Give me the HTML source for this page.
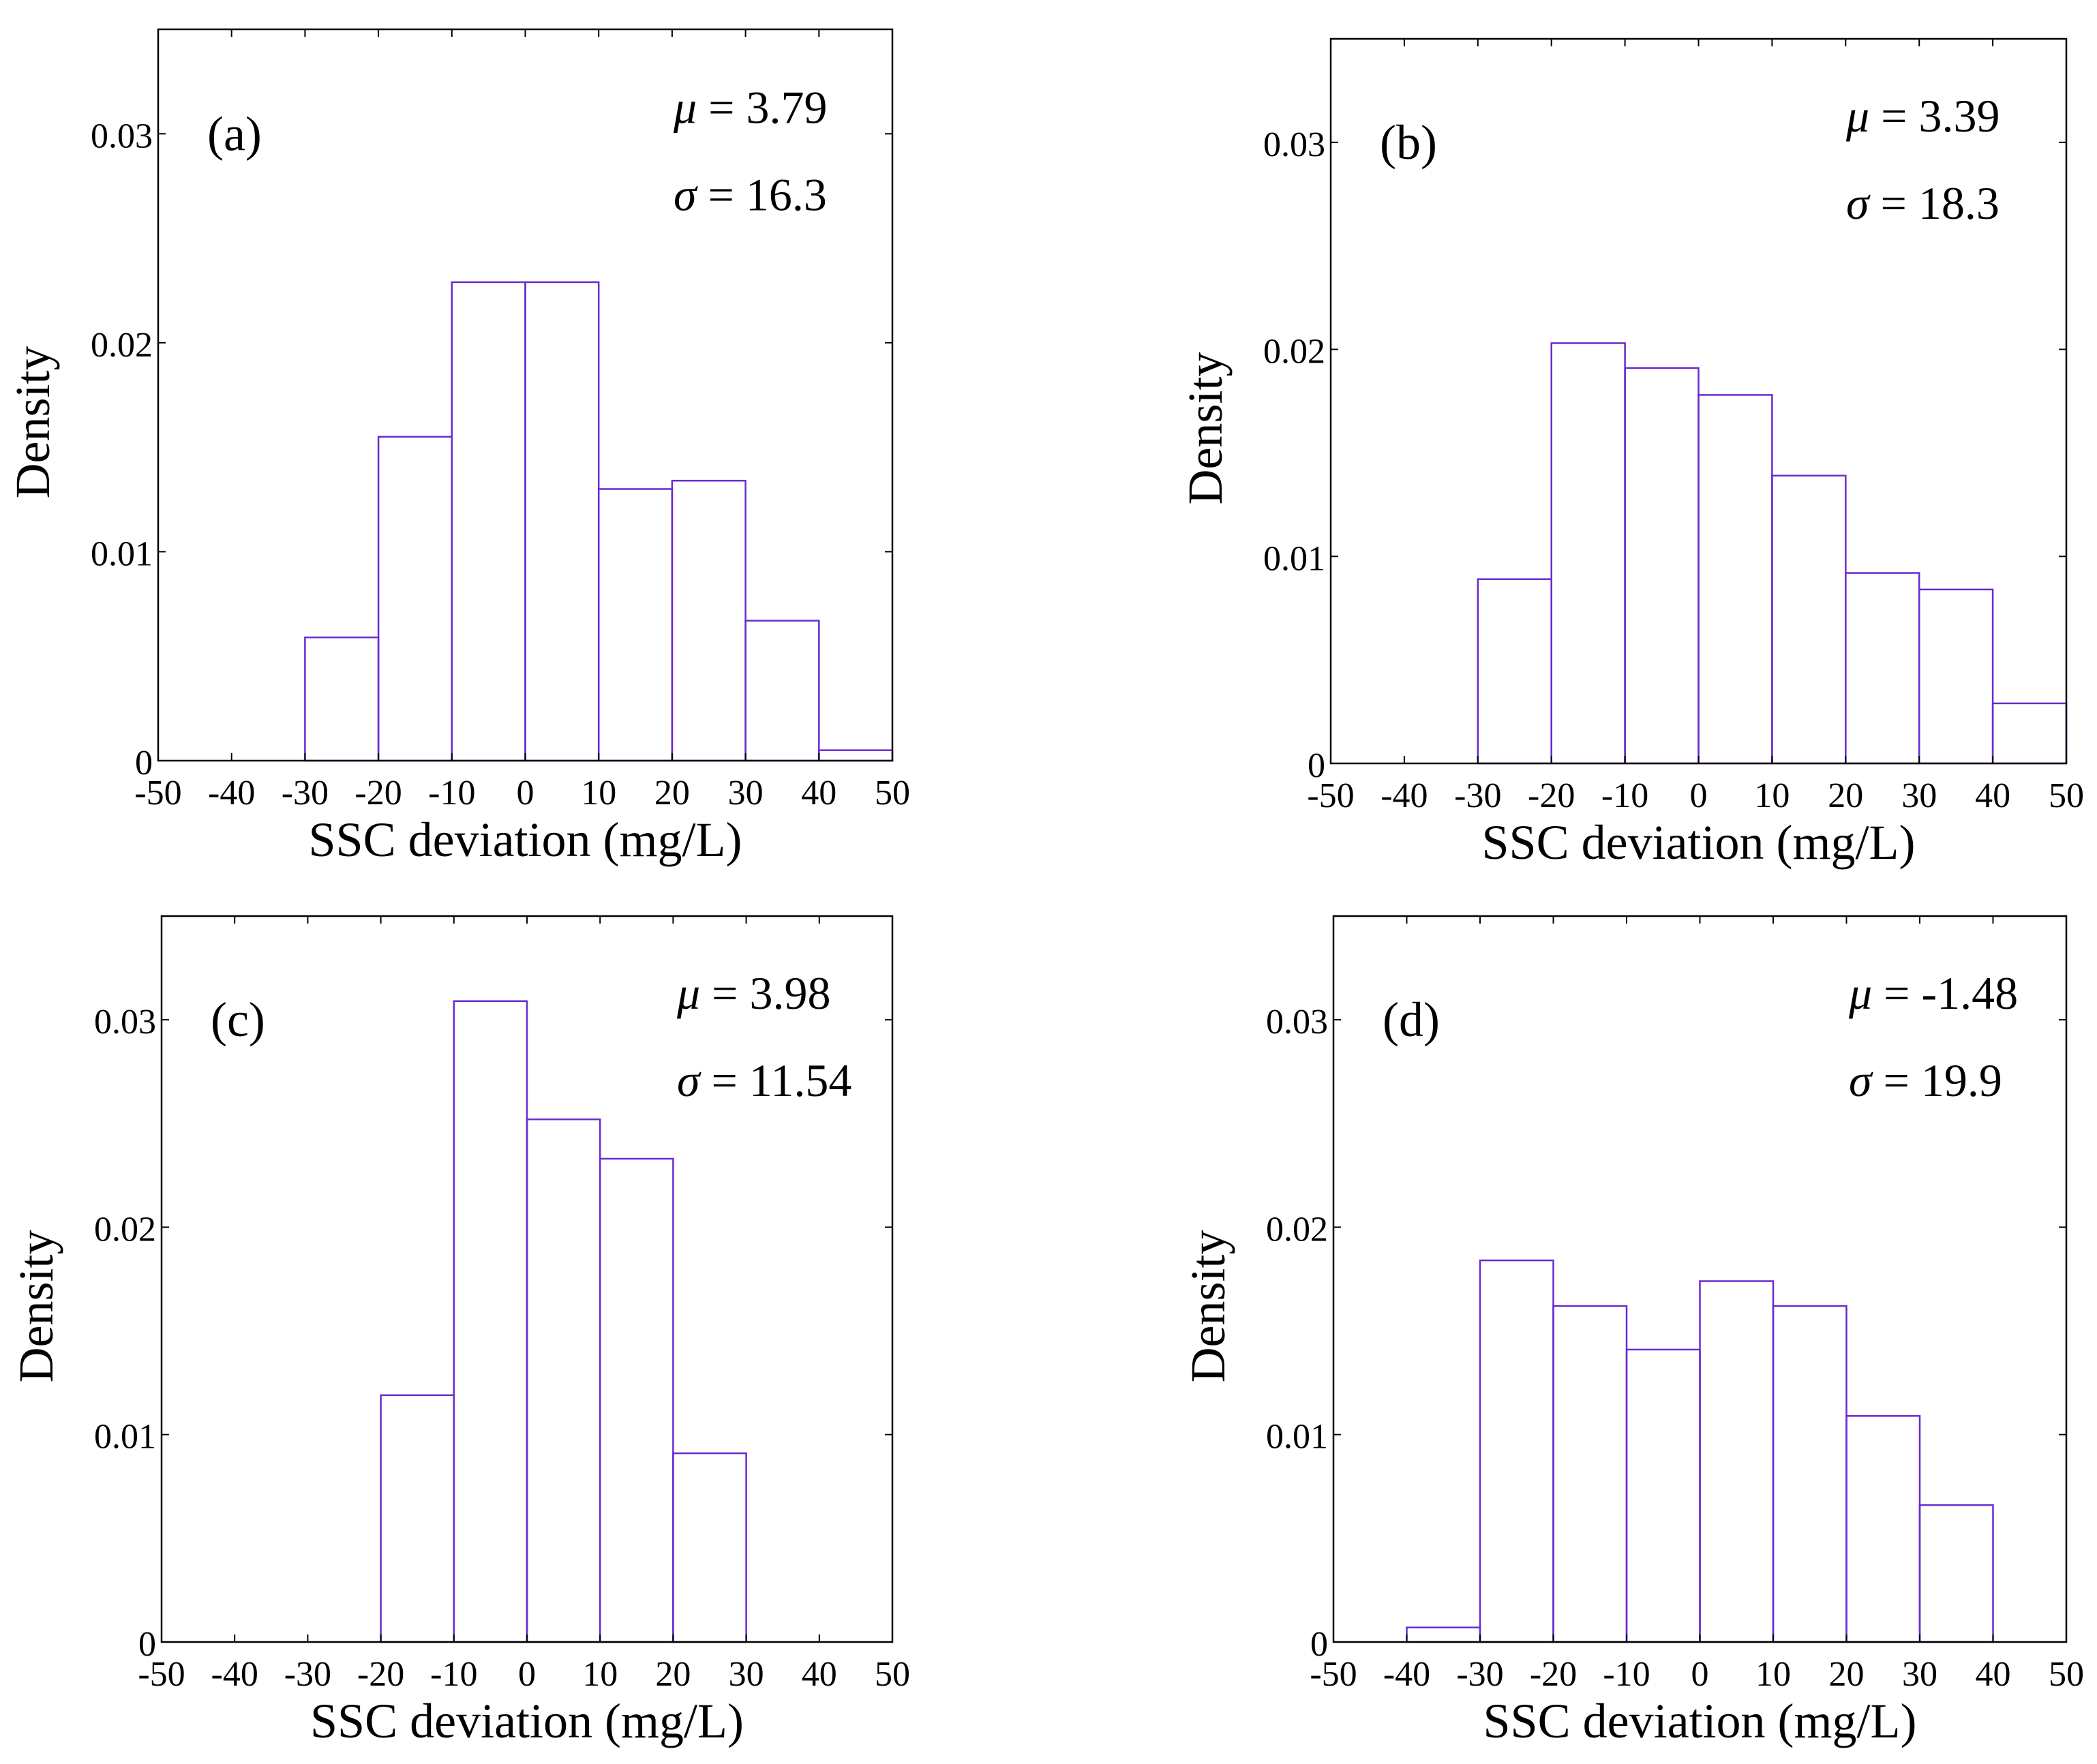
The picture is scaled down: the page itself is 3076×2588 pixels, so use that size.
<!DOCTYPE html>
<html><head><meta charset="utf-8">
<style>
html,body{margin:0;padding:0;background:#fff;}
svg{display:block;}
text{font-family:"Liberation Serif",serif;fill:#000;}
</style></head>
<body>
<svg id="fig" width="3076" height="2588" viewBox="0 0 3076 2588" xmlns="http://www.w3.org/2000/svg"></svg>
<script>
const binEdgesA = [-30,-20,-10,0,10,20,30,40,50];
const densityA = [0.0059,0.0155,0.0229,0.0229,0.0130,0.0134,0.0067,0.0005];
const binEdgesB = [-30,-20,-10,0,10,20,30,40,50];
const densityB = [0.0089,0.0203,0.0191,0.0178,0.0139,0.0092,0.0084,0.0029];
const binEdgesC = [-20,-10,0,10,20,30];
const densityC = [0.0119,0.0309,0.0252,0.0233,0.0091];
const binEdgesD = [-40,-30,-20,-10,0,10,20,30,40];
const densityD = [0.0007,0.0184,0.0162,0.0141,0.0174,0.0162,0.0109,0.0066];
const xTicks = [-50,-40,-30,-20,-10,0,10,20,30,40,50];
const yTicks = [0,0.01,0.02,0.03];
const yTickLabels = ["0","0.01","0.02","0.03"];
const panelLabels = ["(a)","(b)","(c)","(d)"];
const muValues = ["3.79","3.39","3.98","-1.48"];
const sigmaValues = ["16.3","18.3","11.54","19.9"];

const NS = "http://www.w3.org/2000/svg";
const svg = document.getElementById('fig');
function mk(tag, attrs, parent){
  const e = document.createElementNS(NS, tag);
  for (const k in attrs) e.setAttribute(k, attrs[k]);
  (parent||svg).appendChild(e);
  return e;
}
const panels = [
  {L:232,R:1309,T:43,B:1116,edges:binEdgesA,dens:densityA},
  {L:1952,R:3031,T:57,B:1120,edges:binEdgesB,dens:densityB},
  {L:237,R:1309,T:1344,B:2409,edges:binEdgesC,dens:densityC},
  {L:1956,R:3031,T:1344,B:2409,edges:binEdgesD,dens:densityD}
];
const ids = ['a','b','c','d'];
panels.forEach((p,i)=>{
  const g = mk('g',{});
  
  
  const xs = v => p.L + (v+50)/100*(p.R-p.L);
  const ys = v => p.B - v/0.035*(p.B-p.T);
  p.dens.forEach((d,j)=>{
    const x0 = xs(p.edges[j]), x1 = xs(p.edges[j+1]);
    const r = mk('rect',{x:x0,y:ys(d),width:x1-x0,height:p.B-ys(d),fill:'none',stroke:'#6a2bd0','stroke-width':2.5},g);
    
    
  });
  const fr = mk('rect',{x:p.L,y:p.T,width:p.R-p.L,height:p.B-p.T,fill:'none',stroke:'#000','stroke-width':2.5},g);
  
  
  xTicks.forEach(t=>{
    const x = xs(t);
    mk('line',{x1:x,x2:x,y1:p.B,y2:p.B-11,stroke:'#000','stroke-width':2},g);
    mk('line',{x1:x,x2:x,y1:p.T,y2:p.T+11,stroke:'#000','stroke-width':2},g);
    const tx = mk('text',{x:x,y:p.B+64,'font-size':52,'text-anchor':'middle'},g);
    tx.textContent = t;
    
    
  });
  yTicks.forEach((t,k)=>{
    const y = ys(t);
    mk('line',{x1:p.L,x2:p.L+11,y1:y,y2:y,stroke:'#000','stroke-width':2},g);
    mk('line',{x1:p.R,x2:p.R-11,y1:y,y2:y,stroke:'#000','stroke-width':2},g);
    const ty = mk('text',{x:p.L-8,y:y+20,'font-size':52,'text-anchor':'end'},g);
    ty.textContent = yTickLabels[k];
    
    
  });
  const xl = mk('text',{x:(p.L+p.R)/2,y:p.B+140,'font-size':72,'text-anchor':'middle'},g);
  xl.textContent = 'SSC deviation (mg/L)';
  
  
  const yc = (p.T+p.B)/2 + 40;
  const yl = mk('text',{x:0,y:0,'font-size':72,'text-anchor':'middle',transform:`translate(${p.L-160},${yc}) rotate(-90)`},g);
  yl.textContent = 'Density';
  
  
  const pl = mk('text',{x:p.L+72,y:ys(0.03)+24,'font-size':72},g);
  pl.textContent = panelLabels[i];
  
  
  const mu = mk('text',{x:p.L+756,y:ys(0.03)-16,'font-size':68},g);
  mu.innerHTML = '<tspan font-style="italic">μ</tspan> = '+muValues[i];
  
  
  const sg = mk('text',{x:p.L+756,y:ys(0.03)+112,'font-size':68},g);
  sg.innerHTML = '<tspan font-style="italic">σ</tspan> = '+sigmaValues[i];
  
  
});
</script>
</body></html>
